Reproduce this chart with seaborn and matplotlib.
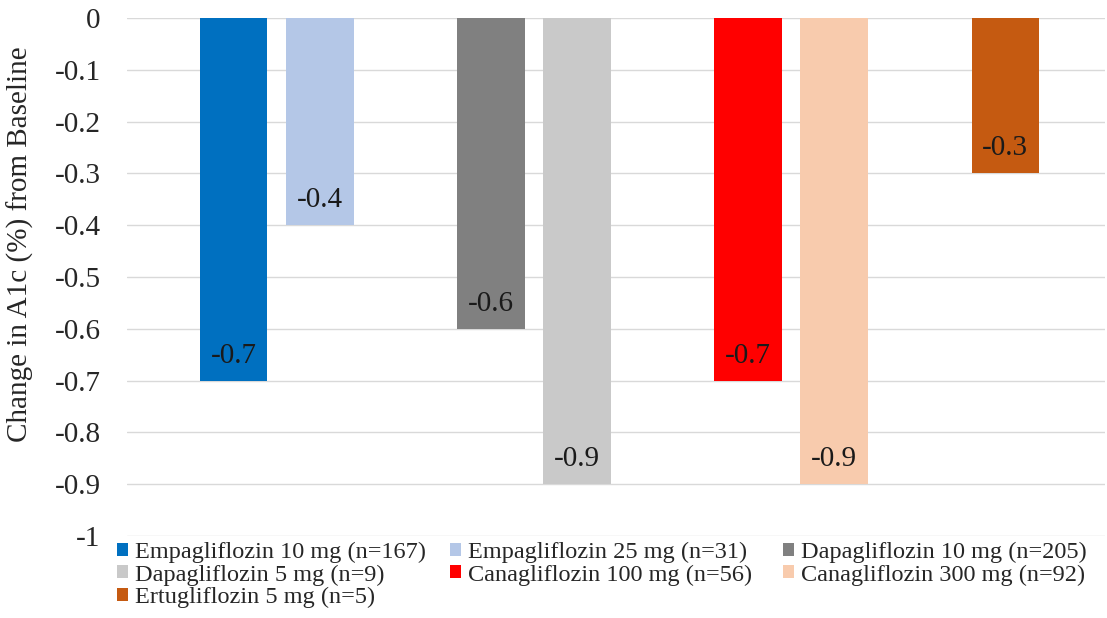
import pandas as pd
import seaborn as sns
import matplotlib.pyplot as plt
from matplotlib.patches import Patch

# datos
grupos = ["Empagliflozin", "Dapagliflozin", "Canagliflozin", "Ertugliflozin"]
farmacos = ["Empagliflozin 10 mg (n=167)", "Empagliflozin 25 mg (n=31)",
            "Dapagliflozin 10 mg (n=205)", "Dapagliflozin 5 mg (n=9)",
            "Canagliflozin 100 mg (n=56)", "Canagliflozin 300 mg (n=92)",
            "Ertugliflozin 5 mg (n=5)"]
grupo_de = ["Empagliflozin", "Empagliflozin", "Dapagliflozin", "Dapagliflozin",
            "Canagliflozin", "Canagliflozin", "Ertugliflozin"]
posicion = ["a", "b", "a", "b", "a", "b", "a"]
cambio_a1c = [-0.7, -0.4, -0.6, -0.9, -0.7, -0.9, -0.3]
colores = ["#0070C0", "#B4C7E7", "#808080", "#C9C9C9", "#FF0000", "#F8CBAD", "#C55A11"]
ticks_y = [0, -0.1, -0.2, -0.3, -0.4, -0.5, -0.6, -0.7, -0.8, -0.9, -1]
etiquetas_y = ["0", "-0.1", "-0.2", "-0.3", "-0.4", "-0.5", "-0.6", "-0.7", "-0.8", "-0.9", "-1"]

df = pd.DataFrame({"grupo": grupo_de, "pos": posicion, "valor": cambio_a1c,
                   "farmaco": farmacos, "color": colores})

sns.set_theme(style="white")
plt.rcParams["font.family"] = ["Liberation Serif", "DejaVu Serif"]

fig = plt.figure(figsize=(11.07, 6.18), dpi=100)
ax = fig.add_axes([0.1147, 0.1327, 0.8835, 0.8382])

sns.barplot(data=df, x="grupo", y="valor", hue="pos", order=grupos,
            hue_order=["a", "b"], width=0.67, gap=0.215, legend=False, ax=ax,
            errorbar=None)

# recolorear cada barra segun su farmaco y poner la etiqueta adentro
for nivel, cont in zip(["a", "b"], ax.containers):
    sub = df[df["pos"] == nivel]
    for barra, (_, fila) in zip(cont.patches, sub.iterrows()):
        barra.set_facecolor(fila["color"])
        barra.set_edgecolor("none")
        x = barra.get_x() + barra.get_width() / 2
        fin = barra.get_y() + barra.get_height()
        ax.annotate(f"{fila['valor']:.1f}", (x, fin),
                    xytext=(0, 18), textcoords="offset points",
                    ha="center", va="center", fontsize=21, color="#1a1a1a")

ax.set_xlim(-0.582, 3.22)
ax.set_ylim(-1, 0)
ax.set_yticks(ticks_y)
ax.set_yticklabels(etiquetas_y, fontsize=21)
ax.tick_params(axis="y", length=0, pad=19)
ax.set_xticks([])
ax.set_xlabel("")
ax.set_ylabel("Change in A1c (%) from Baseline", fontsize=21)
ax.yaxis.set_label_coords(-0.095, 0.564)
ax.yaxis.grid(True, color="#d9d9d9", linewidth=1)
ax.set_axisbelow(True)
sns.despine(ax=ax, left=True, bottom=True)

# leyenda en tres columnas como en el original
columnas = [[0, 3, 6], [1, 4], [2, 5]]
xs = [0.1057, 0.4065, 0.7073]
for idx, xc in zip(columnas, xs):
    handles = [Patch(facecolor=colores[i], edgecolor="none", label=farmacos[i]) for i in idx]
    fig.legend(handles=handles, loc="upper left", bbox_to_anchor=(xc, 0.123),
               frameon=False, fontsize=17.5, handlelength=0.45, handleheight=0.45,
               handletextpad=0.3, labelspacing=0.05, borderpad=0, borderaxespad=0)

fig.savefig("out.png", dpi=100)
